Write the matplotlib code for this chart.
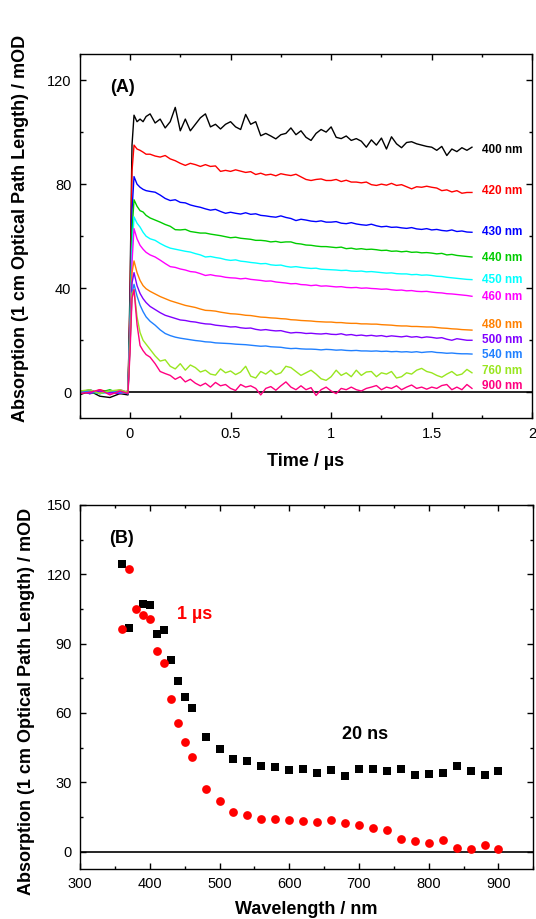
import matplotlib
matplotlib.use("Agg")
import matplotlib.pyplot as plt
from matplotlib.ticker import MultipleLocator

plt.rcParams['font.family'] = ['Liberation Sans', 'DejaVu Sans']

# ---- panel A: transient absorption decays ----
t_us = [-0.25, -0.2, -0.15, -0.1, -0.05, -0.01, 0.0, 0.01, 0.02, 0.035, 0.05, 0.065, 0.08, 0.1,
        0.125, 0.15, 0.175, 0.2, 0.225, 0.25, 0.275, 0.3,
        0.325, 0.35, 0.375, 0.4, 0.425, 0.45, 0.475, 0.5,
        0.525, 0.55, 0.575, 0.6, 0.625, 0.65, 0.675, 0.7,
        0.725, 0.75, 0.775, 0.8, 0.825, 0.85, 0.875, 0.9,
        0.925, 0.95, 0.975, 1.0, 1.025, 1.05, 1.075, 1.1,
        1.125, 1.15, 1.175, 1.2, 1.225, 1.25, 1.275, 1.3,
        1.325, 1.35, 1.375, 1.4, 1.425, 1.45, 1.475, 1.5,
        1.525, 1.55, 1.575, 1.6, 1.625, 1.65, 1.675, 1.7]

a400 = [-1.0, 0.5, -1.5, -2.0, -0.5, -1.0, 40, 95, 106.5, 104, 105, 104, 106, 107,
        103.5, 105, 101.6, 104, 109.5, 100.5, 105, 100.5,
        103, 105.5, 107, 102, 103, 101.2, 103, 104,
        102, 101, 106.8, 103, 104, 98.6, 99.5, 98.5,
        97.4, 99, 99.5, 101.6, 99, 100.5, 98, 96.8,
        99.5, 101, 100, 102, 98, 97.5, 98.5, 96.8,
        97.5, 96.5, 94.2, 97, 95, 97.7, 93.5, 98.2,
        95.5, 94, 96, 96.3, 95.5, 95, 94.5, 94.2,
        93, 94.5, 91, 93.5, 92.5, 94, 93, 94.2]
a420 = [0.5, -0.5, 1.0, 0.0, -0.5, 0.5, 35, 85, 95, 93.5, 93, 92.3, 91.5, 91.5,
        90.8, 90.4, 91, 89.7, 89, 88, 87.2, 88,
        87.5, 86.8, 87.5, 86.8, 87, 84.9, 85.3, 84.9,
        85.5, 85, 84.5, 84.8, 83.7, 84.2, 83.5, 83.8,
        83.2, 84, 83.6, 83.3, 83.8, 82.8, 81.8, 81.4,
        81.8, 82, 81.4, 81.4, 81.8, 81, 81.5, 80.8,
        80.8, 80.5, 80.8, 79.8, 79.5, 80, 79.6, 80.3,
        79.5, 79.8, 79, 78.2, 79, 78.8, 79.2, 78.8,
        78.5, 77.5, 77.8, 77, 77.5, 76.5, 76.8, 76.8]
a430 = [0.0, 1.0, -0.5, 0.5, 0.0, -0.5, 30, 70, 82.9, 80, 78.8, 78, 77.5, 77.2,
        76.9, 75.8, 74.5, 73.7, 74, 73, 72.8, 72,
        71.5, 71.1, 70.5, 70, 70.3, 69.5, 68.8, 69.2,
        68.8, 68.5, 69, 68.4, 68.6, 68, 67.8, 67.5,
        67.3, 67.8, 67.2, 66.8, 66.0, 66.5, 66.2, 65.8,
        65.6, 65.9, 65.4, 65.4, 65.6, 65, 64.8, 65.2,
        64.7, 64.4, 64.2, 64.6, 64.0, 63.6, 63.8, 63.4,
        63.5, 63.2, 63.0, 63.3, 62.8, 62.6, 62.9, 62.4,
        62.6, 62.2, 62.0, 62.4, 61.8, 62.0, 61.6, 61.5]
a440 = [0.5, -0.5, 0.0, 1.0, -0.5, 0.0, 28, 62, 74, 71.5, 69.8, 69.3, 68, 67,
        66.2, 65.4, 64.5, 63.8, 62.5, 62.4, 62.6, 61.8,
        61.5, 61.2, 61.2, 60.8, 60.5, 60.2, 59.8, 59.4,
        59.6, 59.2, 59.0, 58.8, 58.4, 58.4, 58.2, 57.8,
        58.0, 57.6, 57.8, 57.8, 57.2, 57.0, 56.6, 56.5,
        56.2, 56.0, 56.0, 55.8, 55.6, 55.8, 55.2, 55.4,
        55.0, 55.2, 54.9, 55.0, 54.8, 54.5, 54.6, 54.2,
        54.3, 54.0, 54.2, 53.8, 53.9, 53.6, 53.7, 53.5,
        53.2, 53.4, 52.8, 53.0, 52.6, 52.4, 52.2, 52.0]
a450 = [0.0, 0.5, -0.5, 0.0, 0.5, -0.5, 25, 55, 67.4, 65, 63.5, 61.5, 60, 59,
        58.4, 57.2, 56.2, 55.4, 55.0, 54.6, 54.2, 53.9,
        53.3, 52.8, 52.0, 52.2, 51.8, 51.5, 51.0, 50.7,
        50.9, 50.4, 50.2, 49.9, 49.7, 49.4, 49.5, 49.0,
        48.8, 48.9, 48.4, 48.1, 48.3, 48.0, 47.8, 47.6,
        47.7, 47.3, 47.2, 47.1, 47.0, 46.8, 46.9, 46.6,
        46.5, 46.6, 46.3, 46.4, 46.2, 46.0, 45.8, 45.9,
        45.6, 45.5, 45.5, 45.2, 45.3, 45.0, 45.1, 44.9,
        44.6, 44.5, 44.2, 44.0, 43.8, 43.6, 43.4, 43.3]
a460 = [0.5, 0.0, 0.5, -0.5, 1.0, 0.0, 22, 50, 62.9, 59, 56.5, 55, 53.8, 52.8,
        52.0, 50.8, 49.5, 48.3, 48.0, 47.4, 47.0, 46.4,
        46.2, 45.6, 44.9, 45.2, 44.8, 44.6, 44.2, 44.0,
        43.9, 43.6, 43.8, 43.4, 43.2, 43.0, 42.7, 42.8,
        42.4, 42.2, 42.0, 41.7, 41.8, 41.4, 41.3, 41.0,
        41.2, 40.8, 40.9, 40.7, 40.5, 40.6, 40.3, 40.2,
        40.3, 40.0, 40.1, 39.9, 39.8, 39.6, 39.7, 39.4,
        39.2, 39.3, 39.0, 39.1, 38.8, 38.7, 38.8, 38.5,
        38.3, 38.2, 37.9, 37.8, 37.6, 37.4, 37.2, 36.9]
a480 = [-0.5, 0.5, 0.0, 0.5, -0.5, 0.0, 20, 46, 50.5, 46, 43, 41, 39.8, 38.8,
        37.8, 36.8, 36.0, 35.2, 34.6, 34.0, 33.4, 33.0,
        32.6, 32.0, 31.5, 31.4, 31.2, 30.8, 30.5, 30.2,
        30.1, 29.9, 29.6, 29.5, 29.2, 28.9, 28.8, 28.6,
        28.5, 28.3, 28.2, 27.9, 27.8, 27.6, 27.5, 27.4,
        27.2, 27.1, 27.0, 27.0, 26.8, 26.8, 26.6, 26.5,
        26.5, 26.3, 26.3, 26.2, 26.2, 26.0, 25.9, 25.8,
        25.6, 25.5, 25.5, 25.3, 25.3, 25.2, 25.1, 25.1,
        24.9, 24.7, 24.6, 24.4, 24.3, 24.1, 24.0, 23.9]
a500 = [0.5, -0.5, 0.5, 0.0, -0.5, 0.5, 20, 42, 46, 41, 38, 36, 34.5, 33,
        31.8, 30.6, 29.6, 29.0, 28.4, 27.8, 27.6, 27.2,
        27.0, 26.6, 26.3, 26.2, 25.8, 25.6, 25.4, 25.1,
        25.2, 24.8, 24.6, 24.7, 24.2, 23.9, 24.1, 23.8,
        23.6, 23.7, 23.2, 22.8, 23.0, 22.9, 22.6, 22.7,
        22.5, 22.4, 22.6, 22.3, 22.2, 22.5, 22.0, 22.2,
        21.8, 22.0, 21.7, 21.9, 21.6, 21.8, 21.4, 21.7,
        21.5, 21.3, 21.6, 21.2, 21.4, 21.0, 21.3, 21.1,
        20.8, 21.0, 20.4, 20.0, 20.6, 20.3, 20.0, 20.0]
a540 = [0.0, 0.5, -0.5, 0.5, 0.0, -0.5, 18, 38, 41.5, 37, 33.5, 31, 29, 27.3,
        25.8, 24.0, 22.6, 21.8, 21.2, 20.8, 20.5, 20.2,
        19.9, 19.7, 19.4, 19.3, 19.0, 18.9, 18.8, 18.7,
        18.5, 18.4, 18.3, 18.1, 17.9, 17.7, 17.8, 17.5,
        17.4, 17.3, 17.0, 16.8, 16.9, 16.7, 16.6, 16.6,
        16.5, 16.3, 16.5, 16.4, 16.2, 16.3, 16.1, 16.0,
        16.1, 15.9, 15.9, 15.8, 15.9, 15.7, 15.8, 15.6,
        15.7, 15.5, 15.6, 15.4, 15.6, 15.3, 15.5, 15.6,
        15.3, 15.2, 15.0, 15.1, 14.9, 14.8, 14.8, 14.7]
a760 = [0.5, 1.0, -0.5, 0.5, 1.0, 0.0, 18, 38, 39.5, 29, 23, 20, 18.5, 16.5,
        14.0, 12.0, 12.5, 10.0, 9.0, 11.0, 8.5, 10.5,
        9.5, 7.8, 8.5, 7.0, 6.6, 9.0, 7.5, 8.2,
        6.8, 7.8, 10.0, 6.2, 5.5, 8.0, 7.0, 8.5,
        6.8, 7.5, 10.0, 9.5, 8.0, 6.5, 7.5, 8.5,
        7.0, 5.2, 4.6, 6.0, 8.5, 6.5, 7.5, 6.0,
        8.5, 6.5, 7.8, 8.0, 6.0, 7.5, 7.0, 8.0,
        5.5, 6.0, 7.5, 7.0, 8.5, 9.2, 8.0, 7.5,
        6.5, 5.8, 7.0, 8.0, 6.5, 7.0, 8.8, 7.5]
a900 = [-0.5, 0.0, 1.0, -1.0, 0.5, -0.5, 15, 36, 39.5, 26, 18, 16, 14.5, 13.5,
        11.0, 8.0, 7.2, 6.5, 5.0, 6.0, 4.0, 5.0,
        3.5, 2.5, 3.5, 2.0, 3.8, 2.5, 3.0, 1.5,
        0.7, 3.0, 2.0, 2.5, 1.5, -1.0, 1.5, 2.2,
        0.8, 2.5, 4.0, 2.0, 1.0, 2.5, 1.0, 1.8,
        -1.2, 1.0, 2.0, 0.5, -0.5, 1.5, 1.0, 2.0,
        1.0, 0.5, 1.5, 2.0, 2.6, 1.0, 2.0, 1.5,
        2.5, 1.0, 2.0, 2.8, 1.5, 2.0, 1.2, 2.0,
        1.5, 2.6, 3.0, 1.0, 2.0, 1.0, 3.0, 1.5]

trace_names = ["400 nm", "420 nm", "430 nm", "440 nm", "450 nm", "460 nm",
               "480 nm", "500 nm", "540 nm", "760 nm", "900 nm"]
trace_data = [a400, a420, a430, a440, a450, a460, a480, a500, a540, a760, a900]
trace_colors = ["#000000", "#ff0000", "#0000ff", "#00cc00", "#00ffff", "#ff00ff",
                "#ff8000", "#8000ff", "#2080ff", "#99e620", "#ff0080"]
label_y = [93.3, 77.2, 61.5, 51.5, 43.1, 36.6, 25.8, 20.1, 14.3, 8.2, 2.5]

# ---- panel B: transient spectra ----
wl_20ns = [360, 370, 390, 400, 410, 420, 430, 440, 450, 460, 480, 500, 520, 540, 560, 580,
           600, 620, 640, 660, 680, 700, 720, 740, 760, 780, 800, 820, 840, 860, 880, 900]
abs_20ns = [124.6, 96.9, 107.3, 106.7, 94.2, 95.9, 82.9, 73.8, 66.9, 62.2, 49.8, 44.6,
            40.1, 39.2, 37.1, 36.6, 35.5, 35.9, 34.0, 35.5, 32.9, 35.9, 35.9, 35.0,
            35.9, 33.2, 33.8, 34.2, 37.1, 35.0, 33.3, 35.0]
wl_1us = [360, 370, 380, 390, 400, 410, 420, 430, 440, 450, 460, 480, 500, 520, 540, 560,
          580, 600, 620, 640, 660, 680, 700, 720, 740, 760, 780, 800, 820, 840, 860, 880, 900]
abs_1us = [96.4, 122.2, 105.1, 102.4, 100.8, 87.0, 81.5, 65.9, 55.7, 47.5, 40.8, 27.1,
           21.9, 17.3, 16.0, 14.3, 14.0, 13.7, 13.4, 12.7, 13.6, 12.3, 11.7, 10.2, 9.4,
           5.5, 4.6, 3.9, 5.0, 1.6, 1.0, 2.7, 1.3]

ylab = "Absorption (1 cm Optical Path Length) / mOD"

fig = plt.figure(figsize=(5.36, 9.19), dpi=100)
axA = fig.add_axes([0.1487, 0.5448, 0.8444, 0.3964])
axB = fig.add_axes([0.1493, 0.0544, 0.8457, 0.3961])

for ax in (axA, axB):
    ax.tick_params(which='both', direction='in', top=True, right=True,
                   labelsize=10.5, width=1.0, pad=6)
    ax.tick_params(which='major', length=4.5)
    ax.tick_params(which='minor', length=2.5)
    for sp in ax.spines.values():
        sp.set_linewidth(1.0)

# panel A
axA.plot([-0.02, 2], [0, 0], color='black', lw=1.2, zorder=1)
for name, y, c, ly in zip(trace_names, trace_data, trace_colors, label_y):
    axA.plot(t_us, y, color=c, lw=1.0)
    axA.text(1.75, ly, name, color=c, fontsize=8.5, fontweight='bold',
             ha='left', va='center')
axA.set_xlim(-0.25, 2)
axA.set_ylim(-10, 130)
axA.xaxis.set_major_locator(MultipleLocator(0.5))
axA.xaxis.set_minor_locator(MultipleLocator(0.25))
axA.yaxis.set_major_locator(MultipleLocator(40))
axA.yaxis.set_minor_locator(MultipleLocator(20))
axA.set_xticks([0, 0.5, 1, 1.5, 2])
axA.set_xticklabels(["0", "0.5", "1", "1.5", "2"])
axA.text(-0.036, 117, "(A)", fontsize=13, fontweight='bold', ha='center', va='center')
axA.set_xlabel("Time / µs", fontsize=13, fontweight='bold')
axA.set_ylabel(ylab, fontsize=13, fontweight='bold')
axA.xaxis.set_label_coords(0.5, -0.095)
axA.yaxis.set_label_coords(-0.112, 0.52)

# panel B
axB.axhline(0, color='black', lw=1.2, zorder=1)
axB.plot(wl_20ns, abs_20ns, 's', color='black', ms=5.3, mew=0)
axB.plot(wl_1us, abs_1us, 'o', color='#ff0000', ms=6.3, mew=0)
axB.set_xlim(300, 950)
axB.set_ylim(-7.5, 150)
axB.xaxis.set_major_locator(MultipleLocator(100))
axB.xaxis.set_minor_locator(MultipleLocator(50))
axB.yaxis.set_major_locator(MultipleLocator(30))
axB.yaxis.set_minor_locator(MultipleLocator(15))
axB.set_xticks([300, 400, 500, 600, 700, 800, 900])
axB.text(358.8, 135.6, "(B)", fontsize=13, fontweight='bold', ha='center', va='center')
axB.text(464, 102.8, "1 µs", color='#ff0000', fontsize=13, fontweight='bold',
         ha='center', va='center')
axB.text(709, 50.8, "20 ns", color='black', fontsize=13, fontweight='bold',
         ha='center', va='center')
axB.set_xlabel("Wavelength / nm", fontsize=13, fontweight='bold')
axB.set_ylabel(ylab, fontsize=13, fontweight='bold')
axB.xaxis.set_label_coords(0.5, -0.089)
axB.yaxis.set_label_coords(-0.1, 0.46)

fig.savefig("out.png", dpi=100)
